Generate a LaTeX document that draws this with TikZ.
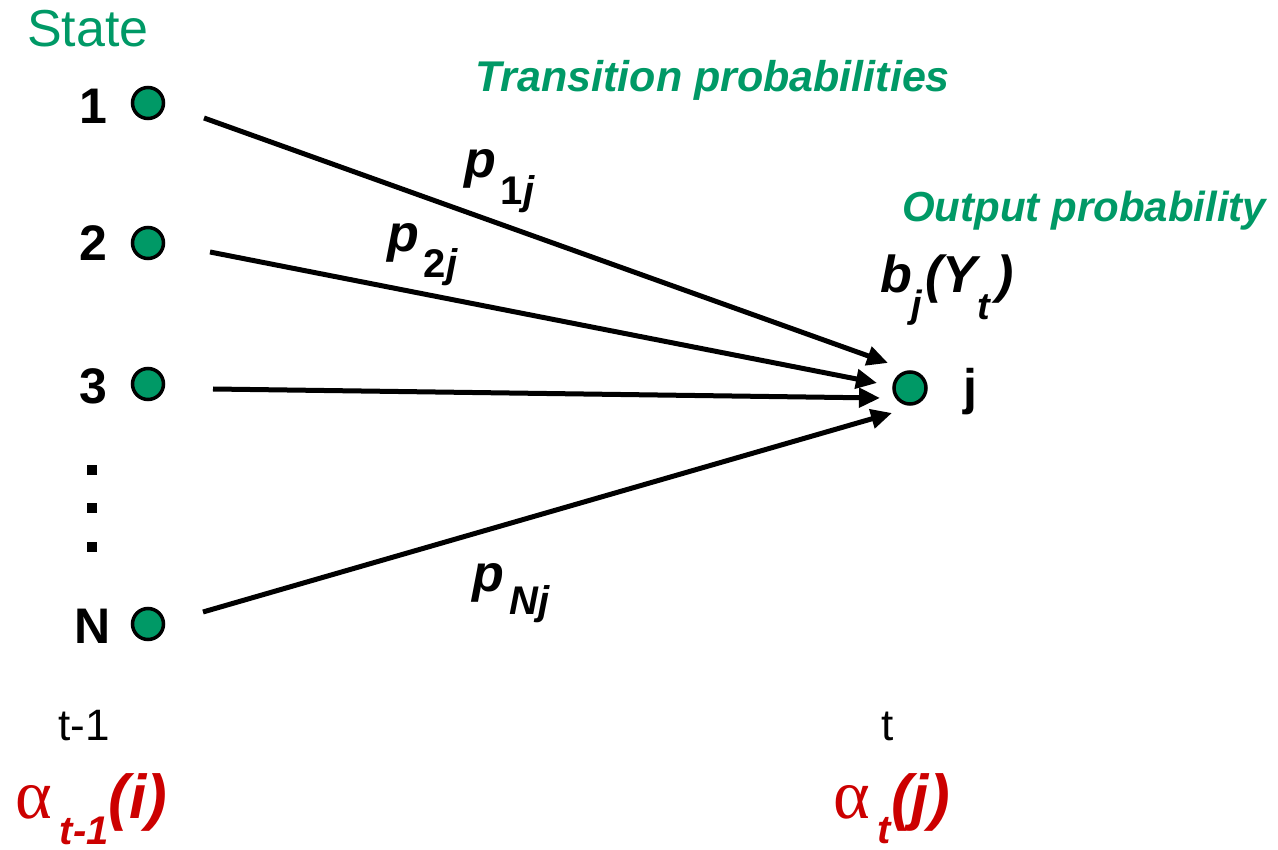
\documentclass[tikz,border=0pt]{standalone}
\usepackage{fontspec}
\setmainfont{Liberation Sans}
\newfontfamily\greekfont{Liberation Serif}
\usetikzlibrary{arrows.meta}
\definecolor{hmmgreen}{HTML}{009966}
\definecolor{hmmred}{HTML}{CC0000}
\newcommand{\fsz}[1]{\fontsize{#1}{#1}\selectfont}
\begin{document}
\begin{tikzpicture}[x=1pt,y=-1pt,
  statedot/.style={circle, draw=black, line width=3.5pt, fill=hmmgreen, minimum size=31pt, inner sep=0pt},
  numlabel/.style={font=\fsz{50}\bfseries, anchor=base, inner sep=0pt},
  plainlabel/.style={font=\fsz{44}, anchor=base west, inner sep=0pt},
  greentitle/.style={font=\fsz{43}\bfseries\itshape, text=hmmgreen, anchor=base west, inner sep=0pt},
  problabel/.style={anchor=base west, inner sep=0pt},
  alphalabel/.style={anchor=base west, inner sep=0pt, text=hmmred},
  trans/.style={line width=5pt, -{Triangle[length=21pt,width=19pt]}},
  vdot/.style={fill=black, draw=none, minimum size=10pt, inner sep=0pt, rectangle}
]
\useasboundingbox (0,0) rectangle (1278,850);

% title
\node[anchor=base west, inner sep=0pt, font=\fsz{52}, text=hmmgreen] (title) at (27,47) {State};

% states at t-1
\node[statedot] (n1) at (148,103) {};
\node[statedot] (n2) at (148,243) {};
\node[statedot] (n3) at (148,384) {};
\node[statedot] (nN) at (148,624) {};
\node[numlabel] (l1) at (93,124) {1};
\node[numlabel] (l2) at (93,261) {2};
\node[numlabel] (l3) at (93,403) {3};
\node[numlabel] (lN) at (93,643) {N};
\node[vdot] (d1) at (92,470) {};
\node[vdot] (d2) at (92,508) {};
\node[vdot] (d3) at (92,547) {};

% state j at t
\node[statedot, minimum size=32pt] (j) at (910,388) {};
\node[numlabel] (lj) at (970,405) {j};

% connectors
\coordinate (s1) at (204,118);
\coordinate (s2) at (210,252);
\coordinate (s3) at (213,389);
\coordinate (sN) at (203,612);
\coordinate (e1) at (888,363);
\coordinate (e2) at (877,383);
\coordinate (e3) at (880,398);
\coordinate (eN) at (892,413);
\draw[trans] (s1) -- (e1);
\draw[trans] (s2) -- (e2);
\draw[trans] (s3) -- (e3);
\draw[trans] (sN) -- (eN);

% texts
\node[greentitle] (tp) at (475,92) {Transition probabilities};
\node[greentitle, font=\fsz{42}\bfseries\itshape] (op) at (902,222) {Output probability};

\node[problabel] (p1) at (464,178) {{\fsz{52}\bfseries\itshape p}\hspace{5pt}\raisebox{-27pt}{\fsz{40}\bfseries 1\itshape j}};
\node[problabel] (p2) at (387,252) {{\fsz{52}\bfseries\itshape p}\hspace{5pt}\raisebox{-26pt}{\fsz{40}\bfseries 2\itshape j}};
\node[problabel] (pN) at (472,591) {{\fsz{52}\bfseries\itshape p}\hspace{6pt}\raisebox{-23pt}{\fsz{40}\bfseries\itshape Nj}};

\node[problabel] (bj) at (880,293) {{\fsz{52}\bfseries\itshape b}\raisebox{-25pt}{\fsz{38}\bfseries\itshape j}\hspace{3pt}{\fsz{52}\bfseries\itshape (Y}\raisebox{-27pt}{\fsz{38}\bfseries\itshape t}\hspace{6pt}{\fsz{52}\bfseries\itshape )}};

\node[plainlabel] (tm1) at (58,740) {t-1};
\node[plainlabel] (tt) at (881,740) {t};

\node[alphalabel] (a1) at (15,818) {{\fsz{70}\greekfont α}\hspace{8pt}\raisebox{-26pt}{\fsz{40}\bfseries\itshape t-1}{\fsz{62}\bfseries\itshape (i)}};
\node[alphalabel] (a2) at (833,818) {{\fsz{70}\greekfont α}\hspace{8pt}\raisebox{-25pt}{\fsz{40}\bfseries\itshape t}{\fsz{62}\bfseries\itshape (j)}};
\end{tikzpicture}
\end{document}
